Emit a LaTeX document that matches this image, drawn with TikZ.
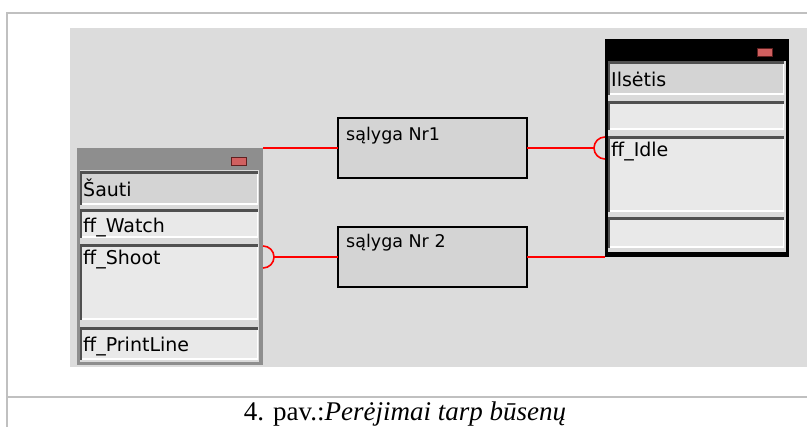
\documentclass[tikz,border=0pt]{standalone}
\usepackage{fontspec}
\setmainfont{Liberation Serif}
\newfontfamily\uifont{DejaVu Sans}
\usetikzlibrary{positioning}

\definecolor{framegray}{HTML}{C0C0C0}
\definecolor{panelgray}{HTML}{DCDCDC}
\definecolor{wingray}{HTML}{8E8E8E}
\definecolor{bodygray}{HTML}{DADADA}
\definecolor{fieldfill}{HTML}{E9E9E9}
\definecolor{titlefill}{HTML}{D4D4D4}
\definecolor{edgedark}{HTML}{505050}
\definecolor{btnred}{HTML}{D06060}
\definecolor{btndark}{HTML}{602020}

\tikzset{
winframe/.style={
  fill=#1,
  anchor=north west,
  inner sep=0pt,
  outer sep=0pt
},
winbody/.style={
  fill=bodygray,
  anchor=north west,
  inner sep=0pt,
  outer sep=0pt
},
winbtn/.style={
  fill=btnred,
  draw=btndark,
  line width=0.8pt,
  inner sep=0pt,
  minimum width=15pt,
  minimum height=8pt
},
field/.style={
  fill=fieldfill,
  anchor=north west,
  inner sep=0pt,
  outer sep=0pt,
  minimum width=#1,
  path picture={
    \draw[white, line width=3pt] (path picture bounding box.south west)
      -- (path picture bounding box.south east) -- (path picture bounding box.north east);
    \draw[edgedark, line width=4pt] (path picture bounding box.south west)
      -- (path picture bounding box.north west) -- (path picture bounding box.north east);
  }
},
titlefield/.style={
  field=#1,
  fill=titlefill
},
uitext/.style={
  font=\uifont\fontsize{19pt}{22pt}\selectfont,
  inner sep=0pt,
  anchor=base west
},
condbox/.style={
  draw=black,
  line width=1.5pt,
  fill=titlefill,
  anchor=north west,
  inner sep=0pt,
  outer sep=0pt,
  minimum width=189pt,
  minimum height=60pt
},
condtext/.style={
  font=\uifont\fontsize{17.5pt}{21pt}\selectfont,
  inner sep=0pt,
  anchor=base west
},
redlink/.style={
  draw=red,
  line width=1.6pt
},
frameline/.style={
  draw=framegray,
  line width=2pt
},
caption/.style={
  font=\fontsize{27pt}{32pt}\selectfont,
  inner sep=0pt,
  anchor=base
}
}

\begin{document}
\begin{tikzpicture}[x=1pt,y=-1pt]
\useasboundingbox (0,0) rectangle (807,427);

\draw[frameline] (807,13) -- (7,13) -- (7,427);
\draw[frameline] (7,397) -- (807,397);

\node[winbody, fill=panelgray, minimum width=737pt, minimum height=339pt] (panel) at (70,28) {};

% left window
\node[winframe=wingray, minimum width=186pt, minimum height=217pt] (sautiwin) at (77,148) {};
\node[winbody, minimum width=179pt, minimum height=192pt] (sautibody) at (80,170) {};
\node[winbtn] (sautibtn) at (239,161) {};
\node[titlefield=178pt, minimum height=33pt] (sauti) at (80,172) {};
\node[field=178pt, minimum height=28pt, below=5pt of sauti] (watch) {};
\node[field=178pt, minimum height=75pt, below=7pt of watch] (shoot) {};
\node[field=178pt, minimum height=32pt, below=8pt of shoot] (printline) {};
\node[uitext] (sautitxt) at ([shift={(3,8)}]sauti.west) {Šauti};
\node[uitext] (watchtxt) at ([shift={(3,9)}]watch.west) {ff\_Watch};
\node[uitext] (shoottxt) at ([shift={(3,20)}]shoot.north west) {ff\_Shoot};
\node[uitext] (printtxt) at ([shift={(3,8)}]printline.west) {ff\_PrintLine};

% right window
\node[winframe=black, minimum width=184pt, minimum height=218pt] (ilsetiswin) at (605,39) {};
\node[winbody, minimum width=178pt, minimum height=191pt] (ilsetisbody) at (608,61) {};
\node[winbtn] (ilsetisbtn) at (765,52) {};
\node[titlefield=176pt, minimum height=33pt] (ilsetis) at (608,62) {};
\node[field=176pt, minimum height=28pt, below=7pt of ilsetis] (emptytop) {};
\node[field=176pt, minimum height=75pt, below=7pt of emptytop] (idle) {};
\node[field=176pt, minimum height=30pt, below=6pt of idle] (emptybot) {};
\node[uitext] (ilsetistxt) at ([shift={(3,8.5)}]ilsetis.west) {Ilsėtis};
\node[uitext] (idletxt) at ([shift={(3,20)}]idle.north west) {ff\_Idle};

% conditions
\node[condbox] (cond1) at (338,118) {};
\node[condbox] (cond2) at (338,227) {};
\node[condtext] (cond1txt) at ([shift={(8,23)}]cond1.north west) {sąlyga Nr1};
\node[condtext] (cond2txt) at ([shift={(8,21)}]cond2.north west) {sąlyga Nr 2};

\coordinate (idlein) at (ilsetiswin.west |- cond1.east);
\coordinate (shootout) at (sautiwin.east |- cond2.west);

\draw[redlink] (sautiwin.north east) -- (cond1.west);
\draw[redlink] (cond1.east) -- ([xshift=-11pt]idlein);
\draw[redlink] ([yshift=11pt]idlein) arc[start angle=90, end angle=270, radius=11pt];
\draw[redlink] ([yshift=11pt]shootout) arc[start angle=90, end angle=-90, radius=11pt];
\draw[redlink] ([xshift=11pt]shootout) -- (cond2.west);
\draw[redlink] (cond2.east) -- (ilsetiswin.south west);

\node[caption] (cap) at (405,421) {4. pav.:\textit{Perėjimai tarp būsenų}};

\end{tikzpicture}
\end{document}
